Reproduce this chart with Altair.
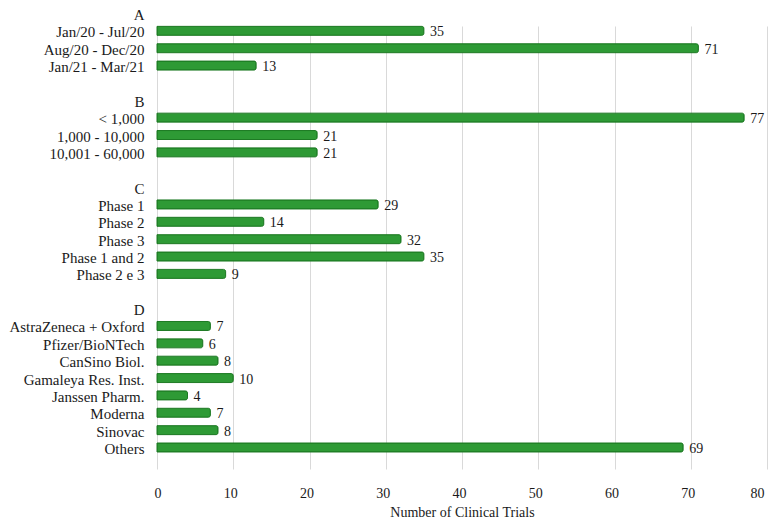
import altair as alt
import pandas as pd

row_labels = ["A", "Jan/20 - Jul/20", "Aug/20 - Dec/20", "Jan/21 - Mar/21", " ",
              "B", "< 1,000", "1,000 - 10,000", "10,001 - 60,000", "  ",
              "C", "Phase 1", "Phase 2", "Phase 3", "Phase 1 and 2", "Phase 2 e 3", "   ",
              "D", "AstraZeneca + Oxford", "Pfizer/BioNTech", "CanSino Biol.",
              "Gamaleya Res. Inst.", "Janssen Pharm.", "Moderna", "Sinovac", "Others"]
values = [None, 35, 71, 13, None,
          None, 77, 21, 21, None,
          None, 29, 14, 32, 35, 9, None,
          None, 7, 6, 8, 10, 4, 7, 8, 69]
x_ticks = [0, 10, 20, 30, 40, 50, 60, 70, 80]

df = pd.DataFrame({"label": row_labels, "value": values})

FONT = "'Liberation Serif', 'Times New Roman', 'DejaVu Serif', serif"

y_enc = alt.Y("label:N", sort=row_labels,
              scale=alt.Scale(domain=row_labels, paddingInner=0.482, paddingOuter=0, range=[0, 443]),
              axis=alt.Axis(title=None, labelFont=FONT, labelFontSize=15, labelColor="#1a1a1a",
                            ticks=False, domain=False, grid=False, labelPadding=13,
                            labelOffset=1.5))
x_enc = alt.X("value:Q",
              scale=alt.Scale(domain=[0, 80], nice=False),
              axis=alt.Axis(values=x_ticks, title="Number of Clinical Trials", titleFont=FONT,
                            titleFontSize=14, titleFontWeight="normal", titleColor="#1a1a1a",
                            labelFont=FONT, labelFontSize=14, labelColor="#1a1a1a",
                            ticks=False, domain=False, grid=True, gridColor="#d9d9d9",
                            gridWidth=1, labelPadding=17, labelOffset=-3, titlePadding=5))

base = alt.Chart(df).transform_filter("datum.value != null")

bars = base.mark_bar(color="#2e9a35", stroke="#1d7a23", strokeWidth=1, cornerRadiusEnd=2).encode(
    x=x_enc, y=y_enc)

texts = base.mark_text(align="left", baseline="middle", dx=6, dy=1.5, font=FONT, fontSize=14,
                       color="#1a1a1a").encode(
    x=alt.X("value:Q"), y=alt.Y("label:N", sort=row_labels), text=alt.Text("value:Q"))

chart = alt.layer(bars, texts).properties(
    width=610, height=460,
    autosize=alt.AutoSizeParams(type="none"),
    padding={"left": 149, "top": 1, "right": 5, "bottom": 51},
    background="white",
).configure_view(stroke=None)

chart.save("out.html", embed_options={"renderer": "svg", "actions": False})
